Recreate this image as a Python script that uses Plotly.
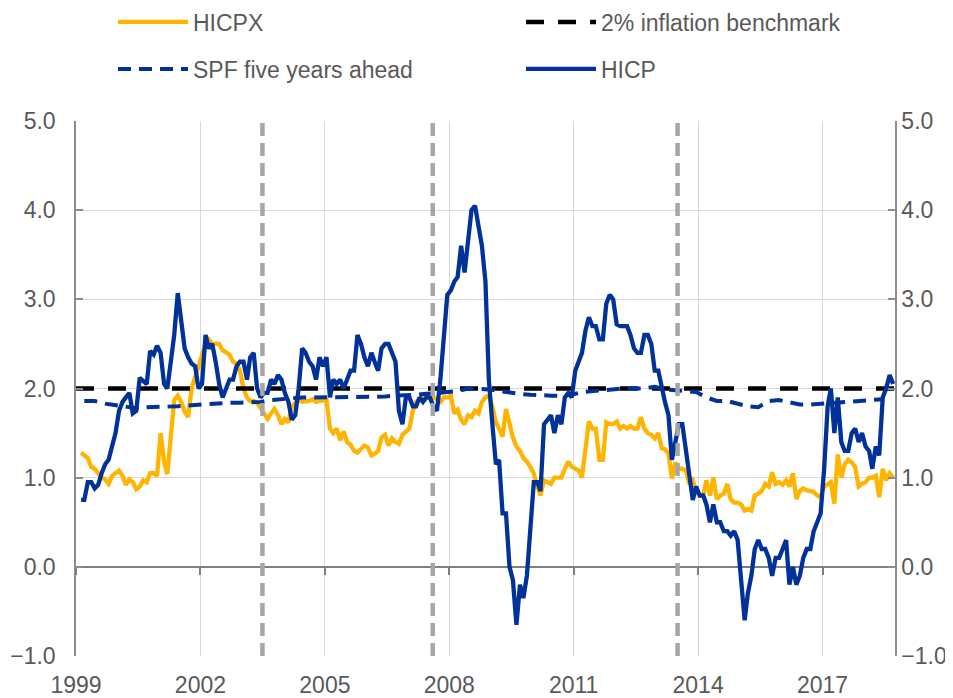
import pandas as pd
import plotly.graph_objects as go

# ---------------- data ----------------
months = pd.date_range("1999-01-15", "2018-09-15", freq="MS") + pd.Timedelta(days=14)

hicp = [
    # 1999
    0.75, 0.75, 0.95, 0.95, 0.88, 0.92, 1.05, 1.15, 1.2, 1.38, 1.5, 1.75,
    # 2000
    1.85, 1.9, 1.95, 1.72, 1.75, 2.12, 2.08, 2.05, 2.42, 2.38, 2.48, 2.4,
    # 2001
    2.05, 2.0, 2.3, 2.6, 3.07, 2.75, 2.45, 2.35, 2.28, 2.25, 2.0, 2.05,
    # 2002
    2.6, 2.45, 2.5, 2.3, 2.05, 1.9, 2.0, 2.1, 2.1, 2.25, 2.3, 2.3,
    # 2003
    2.1, 2.35, 2.4, 2.0, 1.9, 1.95, 1.95, 2.1, 2.05, 2.15, 2.1, 1.95,
    # 2004
    1.85, 1.65, 1.7, 2.0, 2.45, 2.4, 2.3, 2.25, 2.1, 2.35, 2.25, 2.35,
    # 2005
    1.9, 2.1, 2.05, 2.1, 2.0, 2.1, 2.2, 2.2, 2.6, 2.5, 2.35, 2.25,
    # 2006
    2.4, 2.3, 2.2, 2.45, 2.5, 2.5, 2.4, 2.3, 1.75, 1.6, 1.9, 1.9,
    # 2007
    1.8, 1.8, 1.9, 1.85, 1.9, 1.9, 1.8, 1.75, 2.1, 2.6, 3.05, 3.1,
    # 2008
    3.2, 3.25, 3.6, 3.3, 3.7, 4.0, 4.05, 3.8, 3.6, 3.2, 2.1, 1.6,
    # 2009
    1.15, 1.2, 0.6, 0.6, 0.0, -0.15, -0.65, -0.2, -0.35, -0.1, 0.5, 0.95,
    # 2010
    0.95, 0.85, 1.6, 1.65, 1.7, 1.5, 1.7, 1.6, 1.9, 1.95, 1.9, 2.2,
    # 2011
    2.3, 2.4, 2.65, 2.8, 2.7, 2.7, 2.55, 2.55, 2.95, 3.05, 3.0, 2.72,
    # 2012
    2.7, 2.7, 2.7, 2.6, 2.45, 2.4, 2.4, 2.6, 2.6, 2.5, 2.2, 2.2,
    # 2013
    2.0, 1.85, 1.7, 1.2, 1.4, 1.6, 1.6, 1.3, 1.1, 0.75, 0.9, 0.8,
    # 2014
    0.8, 0.7, 0.5, 0.7, 0.5, 0.5, 0.4, 0.4, 0.35, 0.4, 0.3, -0.2,
    # 2015
    -0.6, -0.3, -0.1, 0.2, 0.3, 0.2, 0.2, 0.1, -0.1, 0.1, 0.1, 0.2,
    # 2016
    0.3, -0.2, 0.0, -0.2, -0.1, 0.1, 0.2, 0.2, 0.4, 0.5, 0.6, 1.1,
    # 2017
    1.8, 2.0, 1.5, 1.9, 1.4, 1.3, 1.3, 1.5, 1.55, 1.4, 1.5, 1.35,
    # 2018
    1.3, 1.1, 1.35, 1.25, 1.9, 2.0, 2.15, 2.05, 2.1,
]

hicpx = [
    # 1999
    1.28, 1.25, 1.22, 1.12, 1.1, 1.05, 1.0, 0.98, 0.93, 1.02, 1.05, 1.08,
    # 2000
    1.02, 0.92, 0.98, 0.95, 0.87, 0.9, 0.97, 0.95, 1.05, 1.05, 1.02, 1.5,
    # 2001
    1.18, 1.04, 1.45, 1.87, 1.92, 1.85, 1.74, 1.68, 2.0, 2.12, 2.24, 2.37,
    # 2002
    2.5, 2.55, 2.5, 2.5, 2.5, 2.43, 2.4, 2.38, 2.3, 2.28, 2.2, 2.0,
    # 2003
    1.9, 1.86, 1.86, 1.84, 1.78, 1.72, 1.66, 1.72, 1.77, 1.7, 1.6, 1.66,
    # 2004
    1.62, 1.8, 1.83, 1.87, 1.85, 1.85, 1.86, 1.88, 1.85, 1.86, 1.87, 1.87,
    # 2005
    1.55, 1.5, 1.55, 1.42, 1.52, 1.4, 1.37, 1.3, 1.28, 1.33, 1.36, 1.34,
    # 2006
    1.25, 1.27, 1.3, 1.45, 1.48, 1.36, 1.44, 1.4, 1.38, 1.48, 1.52, 1.55,
    # 2007
    1.75, 1.85, 1.88, 1.9, 1.92, 1.9, 1.9, 1.88, 1.85, 1.9, 1.9, 1.92,
    # 2008
    1.72, 1.76, 1.65, 1.6, 1.7, 1.68, 1.75, 1.72, 1.85, 1.9, 1.92, 1.8,
    # 2009
    1.62, 1.55, 1.46, 1.77, 1.6, 1.45, 1.35, 1.3, 1.22, 1.18, 1.12, 1.05,
    # 2010
    0.9, 0.8, 0.97, 0.95, 0.93, 1.0, 1.0, 1.0, 1.1, 1.18, 1.12, 1.1,
    # 2011
    1.08, 1.0, 1.3, 1.63, 1.55, 1.55, 1.2, 1.2, 1.62, 1.6, 1.6, 1.63,
    # 2012
    1.55, 1.58, 1.55, 1.58, 1.55, 1.55, 1.68, 1.55, 1.5, 1.48, 1.44, 1.5,
    # 2013
    1.33, 1.32, 1.27, 0.99, 1.17, 1.1, 1.1, 1.08, 0.93, 0.97, 0.85, 0.8,
    # 2014
    0.8, 0.97, 0.8, 1.0, 0.76, 0.8, 0.82, 0.93, 0.76, 0.72, 0.72, 0.7,
    # 2015
    0.63, 0.65, 0.63, 0.8, 0.82, 0.85, 0.93, 0.9, 1.06, 0.93, 0.95, 0.92,
    # 2016
    0.97, 0.9, 1.05, 0.76, 0.85, 0.88, 0.86, 0.85, 0.84, 0.8, 0.78, 0.9,
    # 2017
    0.93, 0.95, 0.71, 1.26, 1.0, 1.15, 1.2, 1.17, 1.12, 0.9, 0.93, 0.95,
    # 2018
    1.0, 1.0, 1.02, 0.78, 1.1, 0.97, 1.05, 1.0, 0.93,
]

quarters = pd.date_range("1999-02-15", "2018-08-15", freq="3MS") + pd.Timedelta(days=14)
spf_5y = [
    1.86, 1.86, 1.83, 1.81,   # 1999
    1.79, 1.78, 1.79, 1.79,   # 2000
    1.79, 1.80, 1.81, 1.82,   # 2001
    1.82, 1.83, 1.84, 1.84,   # 2002
    1.84, 1.85, 1.87, 1.88,   # 2003
    1.90, 1.90, 1.90, 1.90,   # 2004
    1.90, 1.90, 1.90, 1.90,   # 2005
    1.91, 1.91, 1.92, 1.92,   # 2006
    1.93, 1.94, 1.95, 1.96,   # 2007
    1.97, 2.00, 2.00, 1.99,   # 2008
    1.97, 1.95, 1.94, 1.93,   # 2009
    1.92, 1.92, 1.92, 1.93,   # 2010
    1.96, 1.97, 1.99, 2.00,   # 2011
    2.00, 2.00, 2.00, 2.02,   # 2012
    1.99, 1.98, 1.97, 1.96,   # 2013
    1.90, 1.86, 1.86, 1.83,   # 2014
    1.80, 1.79, 1.86, 1.87,   # 2015
    1.84, 1.82, 1.82, 1.83,   # 2016
    1.84, 1.84, 1.86, 1.87,   # 2017
    1.88, 1.88, 1.88,         # 2018
]

benchmark = 2.0
axis_start, axis_end = "1999-01-01", "2018-10-01"
event_dates = ["2003-07-01", "2007-08-09", "2013-07-04"]

y_min, y_max = -1.0, 5.0

# ---------------- styles ----------------
BLUE = "#003299"
YELLOW = "#FFB400"
TXT = "#595959"
GRID = "#D9D9D9"
FONT = "Liberation Sans, Arial, sans-serif"
FS = 23
W, H = 945, 690   # page body adds an 8px offset

fig = go.Figure()

fig.add_trace(go.Scatter(x=months, y=hicpx, name="HICPX", mode="lines",
                         line=dict(color=YELLOW, width=4.3), legend="legend"))
fig.add_trace(go.Scatter(x=[axis_start, axis_end], y=[benchmark, benchmark],
                         name="2% inflation benchmark", mode="lines",
                         line=dict(color="black", width=4.5, dash="18px,14px"),
                         legend="legend2"))
fig.add_trace(go.Scatter(x=quarters, y=spf_5y, name="SPF five years ahead", mode="lines",
                         line=dict(color=BLUE, width=4, dash="13px,8px"),
                         legend="legend3"))
fig.add_trace(go.Scatter(x=months, y=hicp, name="HICP", mode="lines",
                         line=dict(color=BLUE, width=4.3), legend="legend4"))
# invisible helper trace to render secondary (right / zero-line) axes
fig.add_trace(go.Scatter(x=[axis_start], y=[None], xaxis="x2", yaxis="y2",
                         showlegend=False, hoverinfo="skip", mode="lines"))

for d in event_dates:
    fig.add_shape(type="line", xref="x", yref="paper", x0=d, x1=d, y0=0, y1=1,
                  line=dict(color="#A6A6A6", width=4.5, dash="13px,7px"), layer="above")

zero_pos = (0 - y_min) / (y_max - y_min)

legend_common = dict(orientation="h", xref="container", yref="container",
                     xanchor="left", yanchor="middle", itemwidth=70,
                     font=dict(size=FS, color=TXT, family=FONT),
                     bgcolor="rgba(0,0,0,0)")
col1, col2 = 105 / W, 513 / W
row1, row2 = 1 - 14 / H, 1 - 61 / H

fig.update_layout(
    width=W, height=H,
    margin=dict(l=68, r=58, t=113, b=42, autoexpand=False),
    paper_bgcolor="white", plot_bgcolor="white",
    font=dict(family=FONT, size=FS, color=TXT),
    xaxis=dict(range=[axis_start, axis_end], type="date",
               tick0="1999-01-01", dtick="M36", tickformat="%Y",
               showgrid=True, gridcolor=GRID, gridwidth=1.3,
               ticks="", showline=False, zeroline=False, ticklabelstandoff=13,
               tickfont=dict(size=FS, color=TXT)),
    xaxis2=dict(range=[axis_start, axis_end], type="date", overlaying="x",
                anchor="free", position=zero_pos, matches="x",
                tick0="1999-01-01", dtick="M36",
                showgrid=False, showticklabels=False, showline=False,
                ticks="outside", ticklen=7, tickwidth=1.5, tickcolor="#7F7F7F"),
    yaxis=dict(range=[y_min, y_max], dtick=1, tickformat=".1f",
               showgrid=True, gridcolor=GRID, gridwidth=1.3,
               zeroline=True, zerolinecolor="#7F7F7F", zerolinewidth=1.8,
               showline=True, linecolor="#8C8C8C", linewidth=1.5,
               ticks="inside", ticklen=7, tickwidth=1.5, tickcolor="#8C8C8C",
               ticklabelstandoff=14,
               tickfont=dict(size=FS, color=TXT)),
    yaxis2=dict(range=[y_min, y_max], dtick=1, tickformat=".1f", overlaying="y",
                side="right", anchor="x", matches="y",
                showgrid=False, zeroline=False,
                showline=True, linecolor="#8C8C8C", linewidth=1.5,
                ticks="inside", ticklen=7, tickwidth=1.5, tickcolor="#8C8C8C",
                ticklabelstandoff=0,
                tickfont=dict(size=FS, color=TXT)),
    legend=dict(x=col1, y=row1, **legend_common),
    legend2=dict(x=col2, y=row1, **legend_common),
    legend3=dict(x=col1, y=row2, **legend_common),
    legend4=dict(x=col2, y=row2, **legend_common),
    showlegend=True,
)

fig.write_html("out.html")
